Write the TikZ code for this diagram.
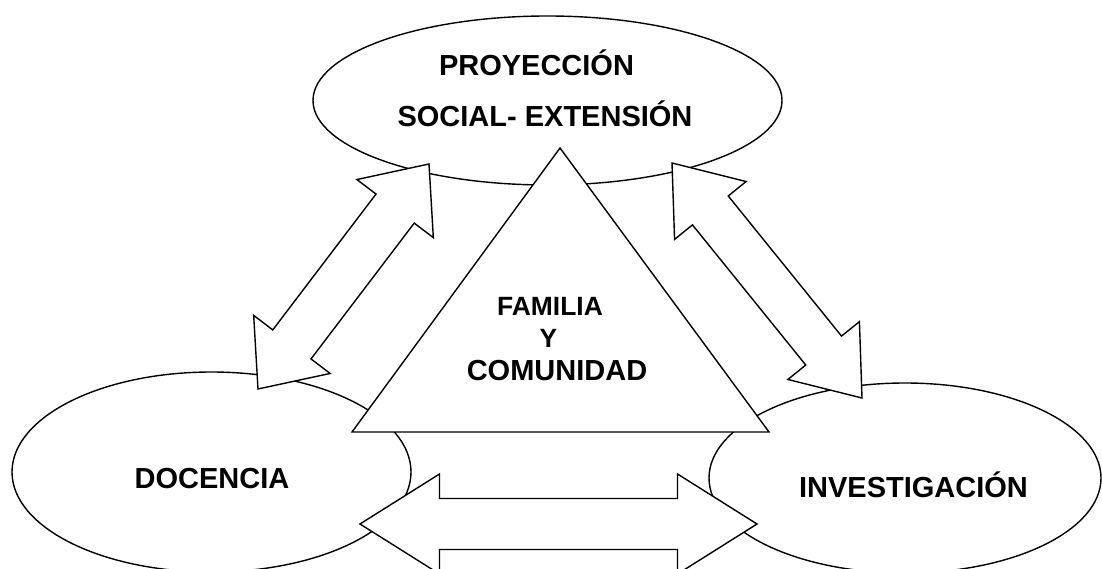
\documentclass[tikz,border=0pt]{standalone}
\usepackage{fontspec}
\setmainfont{Liberation Sans}
\usetikzlibrary{calc,shapes.geometric}

% double block arrow between two tips: half shaft, half head, head length
\newcommand{\blockarrow}[5]{%
  \draw[outline] (#1) -- ($(#1)!#5!(#2)!#4!90:(#2)$) -- ($(#1)!#5!(#2)!#3!90:(#2)$)
    -- ($(#2)!#5!(#1)!#3!-90:(#1)$) -- ($(#2)!#5!(#1)!#4!-90:(#1)$) -- (#2)
    -- ($(#2)!#5!(#1)!#4!90:(#1)$) -- ($(#2)!#5!(#1)!#3!90:(#1)$)
    -- ($(#1)!#5!(#2)!#3!-90:(#2)$) -- ($(#1)!#5!(#2)!#4!-90:(#2)$) -- cycle;}

\begin{document}
\begin{tikzpicture}[x=1pt,y=-1pt,line width=1.4pt,
  outline/.style={draw=black,fill=white,line join=miter},
  area/.style={outline,ellipse,inner sep=0pt},
  lbl/.style={anchor=base,inner sep=0pt,font=\bfseries\fontsize{29}{34}\selectfont},
  small/.style={lbl,font=\bfseries\fontsize{26.4}{31}\selectfont}]
  \useasboundingbox (0,0) rectangle (1102,569);
  \clip (0,0) rectangle (1102,569);
  % the three areas
  \node[area,minimum width=469pt,minimum height=169pt] (proy) at (547.5,100.5) {};
  \node[area,minimum width=399pt,minimum height=200pt] (doc) at (211.5,472) {};
  \node[area,minimum width=392pt,minimum height=190pt] (inv) at (905,478) {};
  % centre triangle
  \coordinate (tl) at (352,432); \coordinate (tr) at (769,432); \coordinate (tt) at (560,148);
  \draw[outline] (tl) -- (tr) -- (tt) -- cycle;
  % links
  \coordinate (a1) at (258,389); \coordinate (a2) at (429,164);
  \coordinate (b1) at (672,163); \coordinate (b2) at (862,398);
  \coordinate (c1) at (360,524); \coordinate (c2) at (757,524);
  \blockarrow{a1}{a2}{24pt}{48pt}{56pt}
  \blockarrow{b1}{b2}{23pt}{46pt}{61pt}
  \blockarrow{c1}{c2}{25.5pt}{50pt}{79.5pt}
  % labels
  \node[lbl] (proy1) at (536.5,76) {PROYECCIÓN};
  \node[lbl] (proy2) at (545,127) {SOCIAL- EXTENSIÓN};
  \node[lbl] (doctxt) at (212,488) {DOCENCIA};
  \node[lbl] (invtxt) at (913.5,497) {INVESTIGACIÓN};
  \node[small] (fam1) at (550,315) {FAMILIA};
  \node[small] (fam2) at (548.5,347) {Y};
  \node[lbl] (fam3) at (557,380) {COMUNIDAD};
\end{tikzpicture}
\end{document}
